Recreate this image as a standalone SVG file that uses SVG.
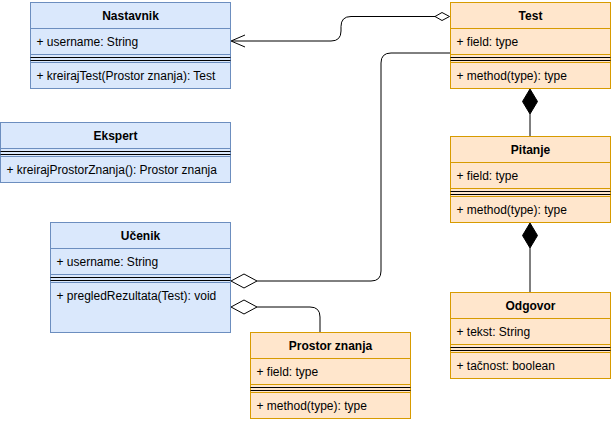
<svg xmlns="http://www.w3.org/2000/svg" width="611" height="422" viewBox="0 0 611 422">
<style>
.b{fill:#dae8fc;stroke:#6c8ebf;stroke-width:1}
.bl{stroke:#6c8ebf;stroke-width:1}
.o{fill:#ffe6cc;stroke:#d79b00;stroke-width:1}
.ol{stroke:#d79b00;stroke-width:1}
.sep{stroke:#000;stroke-width:1}
text{font-family:"Liberation Sans",Arial,sans-serif;font-size:12px;fill:#000}
.h{font-weight:bold;text-anchor:middle}
.e{fill:none;stroke:#000;stroke-width:1}
.od{fill:#fff;stroke:#000;stroke-width:1}
.fd{fill:#000;stroke:#000;stroke-width:1}
</style>
<rect width="611" height="422" fill="#fff"/>
<g id="connectors">
<path class="e" d="M435,16.5 H351 Q341,16.5 341,26.5 V31 Q341,41 331,41 H232"/>
<path class="e" d="M245,35 L231,41 L245,47"/>
<polygon class="od" points="449.5,16.5 442,12.5 435,16.5 442,20.5"/>
<rect x="452" y="5" width="7" height="11" fill="#fff"/>
<text x="453" y="14" style="font-size:10px">1</text>
<path class="e" d="M450,53 H391 Q381,53 381,63 V271 Q381,281 371,281 H257"/>
<polygon class="od" points="231,281 244,274 257,281 244,288"/>
<path class="e" d="M257,307 H310 Q320,307 320,317 V332"/>
<polygon class="od" points="231,307 244,300 257,307 244,314"/>
<path class="e" d="M530,114 V136.5"/>
<polygon class="fd" points="530,89 537.5,101.5 530,114 522.5,101.5"/>
<path class="e" d="M530,248 V292.5"/>
<polygon class="fd" points="530,223 537.5,235.5 530,248 522.5,235.5"/>
</g>
<g id="nastavnik">
<rect class="b" x="30.5" y="2.5" width="200" height="86"/>
<line class="bl" x1="30.5" y1="28.5" x2="230.5" y2="28.5"/>
<line class="bl" x1="30.5" y1="54.5" x2="230.5" y2="54.5"/>
<line class="sep" x1="30.5" y1="57.5" x2="230.5" y2="57.5"/>
<line class="sep" x1="30.5" y1="60.5" x2="230.5" y2="60.5"/>
<line class="bl" x1="30.5" y1="62.5" x2="230.5" y2="62.5"/>
<text class="h" x="130.5" y="20">Nastavnik</text>
<text x="36.5" y="46">+ username: String</text>
<text x="36.5" y="80">+ kreirajTest(Prostor znanja): Test</text>
</g>
<g id="ekspert">
<rect class="b" x="0.5" y="122.5" width="230" height="60"/>
<line class="bl" x1="0.5" y1="148.5" x2="230.5" y2="148.5"/>
<line class="sep" x1="0.5" y1="151.5" x2="230.5" y2="151.5"/>
<line class="sep" x1="0.5" y1="154.5" x2="230.5" y2="154.5"/>
<line class="bl" x1="0.5" y1="156.5" x2="230.5" y2="156.5"/>
<text class="h" x="115.5" y="140">Ekspert</text>
<text x="6.5" y="174">+ kreirajProstorZnanja(): Prostor znanja</text>
</g>
<g id="ucenik">
<rect class="b" x="50.5" y="222.5" width="180" height="110"/>
<line class="bl" x1="50.5" y1="248.5" x2="230.5" y2="248.5"/>
<line class="bl" x1="50.5" y1="274.5" x2="230.5" y2="274.5"/>
<line class="sep" x1="50.5" y1="277.5" x2="230.5" y2="277.5"/>
<line class="sep" x1="50.5" y1="280.5" x2="230.5" y2="280.5"/>
<line class="bl" x1="50.5" y1="282.5" x2="230.5" y2="282.5"/>
<text class="h" x="140.5" y="240">Učenik</text>
<text x="56.5" y="266">+ username: String</text>
<text x="56.5" y="300">+ pregledRezultata(Test): void</text>
</g>
<g id="test">
<rect class="o" x="450.5" y="2.5" width="160" height="86"/>
<line class="ol" x1="450.5" y1="28.5" x2="610.5" y2="28.5"/>
<line class="ol" x1="450.5" y1="54.5" x2="610.5" y2="54.5"/>
<line class="sep" x1="450.5" y1="57.5" x2="610.5" y2="57.5"/>
<line class="sep" x1="450.5" y1="60.5" x2="610.5" y2="60.5"/>
<line class="ol" x1="450.5" y1="62.5" x2="610.5" y2="62.5"/>
<text class="h" x="530.5" y="20">Test</text>
<text x="456.5" y="46">+ field: type</text>
<text x="456.5" y="80">+ method(type): type</text>
</g>
<g id="pitanje">
<rect class="o" x="450.5" y="136.5" width="160" height="86"/>
<line class="ol" x1="450.5" y1="162.5" x2="610.5" y2="162.5"/>
<line class="ol" x1="450.5" y1="188.5" x2="610.5" y2="188.5"/>
<line class="sep" x1="450.5" y1="191.5" x2="610.5" y2="191.5"/>
<line class="sep" x1="450.5" y1="194.5" x2="610.5" y2="194.5"/>
<line class="ol" x1="450.5" y1="196.5" x2="610.5" y2="196.5"/>
<text class="h" x="530.5" y="154">Pitanje</text>
<text x="456.5" y="180">+ field: type</text>
<text x="456.5" y="214">+ method(type): type</text>
</g>
<g id="odgovor">
<rect class="o" x="450.5" y="292.5" width="160" height="86"/>
<line class="ol" x1="450.5" y1="318.5" x2="610.5" y2="318.5"/>
<line class="ol" x1="450.5" y1="344.5" x2="610.5" y2="344.5"/>
<line class="sep" x1="450.5" y1="347.5" x2="610.5" y2="347.5"/>
<line class="sep" x1="450.5" y1="350.5" x2="610.5" y2="350.5"/>
<line class="ol" x1="450.5" y1="352.5" x2="610.5" y2="352.5"/>
<text class="h" x="530.5" y="310">Odgovor</text>
<text x="456.5" y="336">+ tekst: String</text>
<text x="456.5" y="370">+ tačnost: boolean</text>
</g>
<g id="prostor-znanja">
<rect class="o" x="250.5" y="332.5" width="160" height="86"/>
<line class="ol" x1="250.5" y1="358.5" x2="410.5" y2="358.5"/>
<line class="ol" x1="250.5" y1="384.5" x2="410.5" y2="384.5"/>
<line class="sep" x1="250.5" y1="387.5" x2="410.5" y2="387.5"/>
<line class="sep" x1="250.5" y1="390.5" x2="410.5" y2="390.5"/>
<line class="ol" x1="250.5" y1="392.5" x2="410.5" y2="392.5"/>
<text class="h" x="330.5" y="350">Prostor znanja</text>
<text x="256.5" y="376">+ field: type</text>
<text x="256.5" y="410">+ method(type): type</text>
</g>
</svg>
